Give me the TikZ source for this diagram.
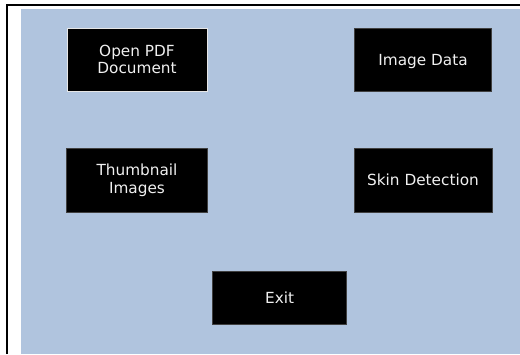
\documentclass[tikz,border=0pt]{standalone}
\usepackage{fontspec}
\setmainfont{DejaVu Sans}
\definecolor{panelblue}{RGB}{176,196,222}
\definecolor{boxedge}{RGB}{64,64,64}
\definecolor{focusedge}{RGB}{230,230,230}
\definecolor{labeltext}{RGB}{240,240,240}
\tikzset{
  btn/.style={rectangle, fill=black, draw=boxedge, line width=1pt,
    text=labeltext, align=center, inner sep=0pt,
    font=\fontsize{15.3}{17.7}\selectfont},
  focusbtn/.style={btn, draw=focusedge},
}
\begin{document}
\begin{tikzpicture}[x=1pt,y=-1pt]
  \useasboundingbox (0,0) rectangle (520,354);
  \fill[white] (0,0) rectangle (520,354);
  \fill[panelblue] (21,9) rectangle (520,354);
  \draw[black, line width=2.5pt] (7,354) -- (7,5) -- (520,5);
  \node[focusbtn, minimum width=140pt, minimum height=63pt] (open) at (137,59.5) {Open PDF\\Document};
  \node[btn, minimum width=141pt, minimum height=64pt] (thumb) at (137,180.3) {Thumbnail\\Images};
  \node[btn, minimum width=137pt, minimum height=63pt, text height=11.2pt, text depth=0pt] (imgdata) at (423,60) {Image Data};
  \node[btn, minimum width=138pt, minimum height=64pt, text height=11.2pt, text depth=0pt] (skin) at (423,180.3) {Skin Detection};
  \node[btn, minimum width=134pt, minimum height=53pt, text height=11.2pt, text depth=0pt] (exit) at (279.7,297.7) {Exit};
\end{tikzpicture}
\end{document}
